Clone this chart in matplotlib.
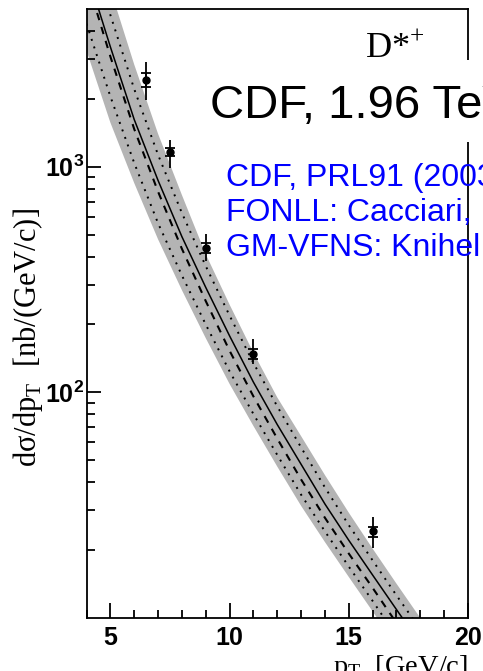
import matplotlib
matplotlib.use("Agg")
import matplotlib.pyplot as plt
from matplotlib.ticker import FixedLocator, NullFormatter
from matplotlib.patches import Rectangle

plt.rcParams['mathtext.fontset'] = 'custom'
plt.rcParams['mathtext.rm'] = 'Liberation Sans'
plt.rcParams['mathtext.bf'] = 'Liberation Sans:bold'

# theory curves
pt = [4, 5, 6, 7, 8, 9, 10, 11, 12, 13, 14, 15, 16, 17, 18]
fonll = [7400, 3400, 1620, 870, 490, 292, 178, 111, 72, 48, 32, 22.1, 15.5, 10.9, 7.7]
band_hi = [13800, 6140, 2840, 1400, 750, 410, 245, 150, 95, 64, 43, 29.3, 20.3, 14.2, 10.0]
band_lo = [3270, 1570, 847, 477, 284, 174, 109, 71, 46.9, 31.4, 21.7, 15.2, 10.7, 7.5, 5.4]
dot_hi = [10600, 4710, 2210, 1130, 624, 363, 219, 135, 86.7, 57.0, 37.9, 25.8, 18.0, 12.6, 8.9]
dot_lo = [4300, 2050, 1040, 562, 330, 200, 124, 80.2, 52.8, 35.2, 24.2, 16.9, 11.9, 8.3, 5.9]
gmvfns = [6860, 3080, 1470, 776, 433, 254, 153, 96, 62.4, 41.1, 27.8, 19.3, 13.6, 9.5, 6.7]

# CDF data
pt_data = [6.5, 7.5, 9.0, 11.0, 16.0]
xsec = [2420, 1160, 435, 148, 24.2]
stat_lo = [2250, 1110, 413, 141, 22.8]
stat_hi = [2600, 1210, 457, 156, 25.3]
tot_lo = [1980, 990, 381, 133, 20.4]
tot_hi = [2900, 1310, 501, 172, 27.9]

fig = plt.figure(figsize=(4.83, 6.71), dpi=100)
ax = fig.add_axes([86.5/483, 53/671, (468-86.5)/483, (618-9)/671])

ax.fill_between(pt, band_lo, band_hi, color='#b4b4b4', lw=0, zorder=1)
ax.plot(pt, fonll, color='black', lw=1.1, zorder=3)
ax.plot(pt, gmvfns, color='black', lw=1.5, ls=(0, (3.6, 3.4)), zorder=3)
ax.plot(pt, dot_hi, color='black', lw=1.4, ls=(0, (1, 3.1)), zorder=3)
ax.plot(pt, dot_lo, color='black', lw=1.4, ls=(0, (1, 3.1)), zorder=3)

# total errors (no caps) and stat errors (caps)
tot_err = [[v - l for v, l in zip(xsec, tot_lo)], [h - v for v, h in zip(xsec, tot_hi)]]
st_err = [[v - l for v, l in zip(xsec, stat_lo)], [h - v for v, h in zip(xsec, stat_hi)]]
ax.errorbar(pt_data, xsec, yerr=tot_err, fmt='none', ecolor='black', elinewidth=1.3, zorder=4)
ax.errorbar(pt_data, xsec, yerr=st_err, fmt='o', color='black', ms=5, ecolor='black',
            elinewidth=1.3, capsize=3.6, capthick=1.3, zorder=5)

ax.set_yscale('log')
ax.set_xlim(4, 20)
ax.set_ylim(10, 5000)

ax.xaxis.set_major_locator(FixedLocator([5, 10, 15, 20]))
ax.xaxis.set_minor_locator(FixedLocator([4, 6, 7, 8, 9, 11, 12, 13, 14, 16, 17, 18, 19]))
ax.set_xticklabels(['5', '10', '15', '20'], fontsize=18, fontweight='bold', family='Liberation Sans')
ax.yaxis.set_major_locator(FixedLocator([100, 1000]))
ax.yaxis.set_minor_locator(FixedLocator([20, 30, 40, 50, 60, 70, 80, 90,
                                         200, 300, 400, 500, 600, 700, 800, 900,
                                         2000, 3000, 4000]))
ax.yaxis.set_minor_formatter(NullFormatter())
ax.set_yticklabels([r'$\mathbf{10^{2}}$', r'$\mathbf{10^{3}}$'], fontsize=18)

ax.tick_params(which='both', direction='in', top=False, right=False, width=1.3)
ax.tick_params(axis='x', which='major', length=11, pad=6)
ax.tick_params(axis='x', which='minor', length=6)
ax.tick_params(axis='y', which='major', length=10, pad=1.5)
ax.tick_params(axis='y', which='minor', length=5.5)
for s in ax.spines.values():
    s.set_linewidth(1.3)

ax.set_ylabel('dσ/dp$_\\mathregular{T}$  [nb/(GeV/c)]', family='Liberation Serif', fontsize=22)
ax.yaxis.set_label_coords(-0.11, 0.461)
ax.text(1.0, -0.057, 'p$_\\mathregular{T}$  [GeV/c]', transform=ax.transAxes, ha='right', va='top',
        family='Liberation Serif', fontsize=20.5)

ax.text((365-86.5)/(468-86.5), 1 - (58-9)/609, 'D*$^\\mathregular{+}$', transform=ax.transAxes,
        ha='left', va='baseline', family='Liberation Serif', fontsize=26)

# white box behind the big label
fig.patches.append(Rectangle((200/483, (671-142)/671), 283/483, 82/671, transform=fig.transFigure,
                             facecolor='white', edgecolor='none', zorder=2))
fig.text(210/483, (671-118)/671, 'CDF, 1.96 TeV', fontsize=34, family='Liberation Sans',
         ha='left', va='baseline', zorder=3)

blue_lines = ['CDF, PRL91 (2003)', 'FONLL: Cacciari, Nason', 'GM-VFNS: Knihel et al.']
for i, s in enumerate(blue_lines):
    fig.text(226/483, (671-186-35*i)/671, s, fontsize=23, family='Liberation Sans',
             color='#0000ff', ha='left', va='baseline', zorder=3)

plt.savefig('out.png', dpi=100)
